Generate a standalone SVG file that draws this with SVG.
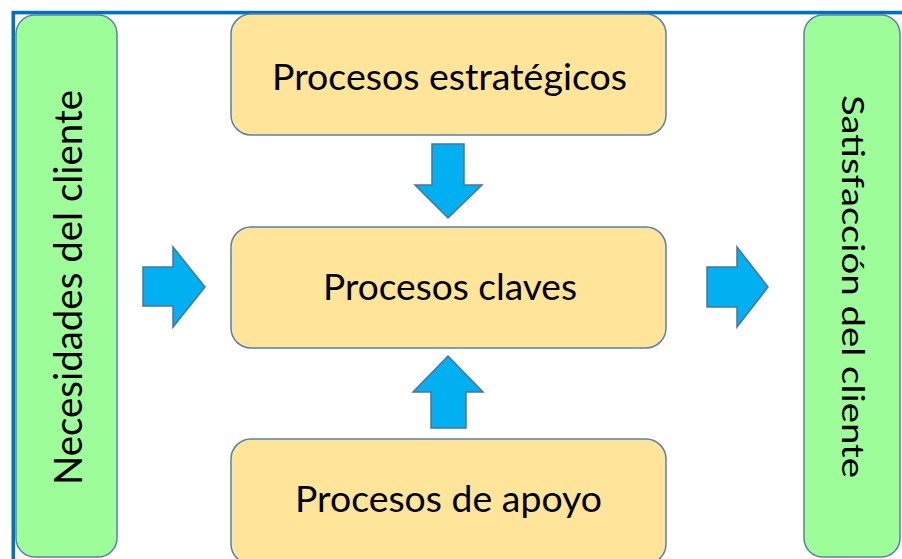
<svg xmlns="http://www.w3.org/2000/svg" width="902" height="559" viewBox="0 0 902 559">
<style>
.side{fill:#9dfd99;stroke:#5a80aa;stroke-width:1.5}
.proc{fill:#ffe599;stroke:#5a80aa;stroke-width:1.5}
.arr{fill:#00b0f0;stroke:#4a74a0;stroke-width:1.5;stroke-linejoin:miter}
.t{font-family:Lato,"Open Sans",sans-serif;fill:#000;text-anchor:middle}
</style>
<rect x="0" y="0" width="902" height="559" fill="#ffffff"/>
<rect x="13.3" y="12.6" width="900" height="560" fill="none" stroke="#0070c0" stroke-width="3.6"/>
<g id="necesidades">
<rect class="side" x="16" y="15" width="101" height="542" rx="19"/>
<text class="t" transform="translate(82,287.5) rotate(-90)" font-size="38" textLength="395" lengthAdjust="spacingAndGlyphs">Necesidades del cliente</text>
</g>
<g id="satisfaccion">
<rect class="side" x="804" y="15" width="96" height="542" rx="19"/>
<text class="t" transform="translate(842,286.5) rotate(90)" font-size="30" textLength="383" lengthAdjust="spacingAndGlyphs">Satisfacción del cliente</text>
</g>
<g id="estrategicos">
<rect class="proc" x="231" y="14" width="435" height="121" rx="20"/>
<text class="t" x="449.5" y="90" font-size="37" textLength="355" lengthAdjust="spacingAndGlyphs">Procesos estratégicos</text>
</g>
<g id="claves">
<rect class="proc" x="231" y="227" width="435" height="121" rx="20"/>
<text class="t" x="450" y="300" font-size="37" textLength="254" lengthAdjust="spacingAndGlyphs">Procesos claves</text>
</g>
<g id="apoyo">
<rect class="proc" x="231" y="439" width="435" height="125" rx="20"/>
<text class="t" x="448.5" y="512" font-size="37" textLength="307" lengthAdjust="spacingAndGlyphs">Procesos de apoyo</text>
</g>
<g id="connectors">
<polygon class="arr" points="432,144 464,144 464,185 482,185 448,218 415,185 432,185"/>
<polygon class="arr" points="448,356 483,392 466,392 466,428 431,428 431,392 413,392"/>
<polygon class="arr" points="143,267 173,267 173,247 205,287 173,327 173,306 143,306"/>
<polygon class="arr" points="707,267 737,267 737,247 768,287 737,327 737,307 707,307"/>
</g>
</svg>
